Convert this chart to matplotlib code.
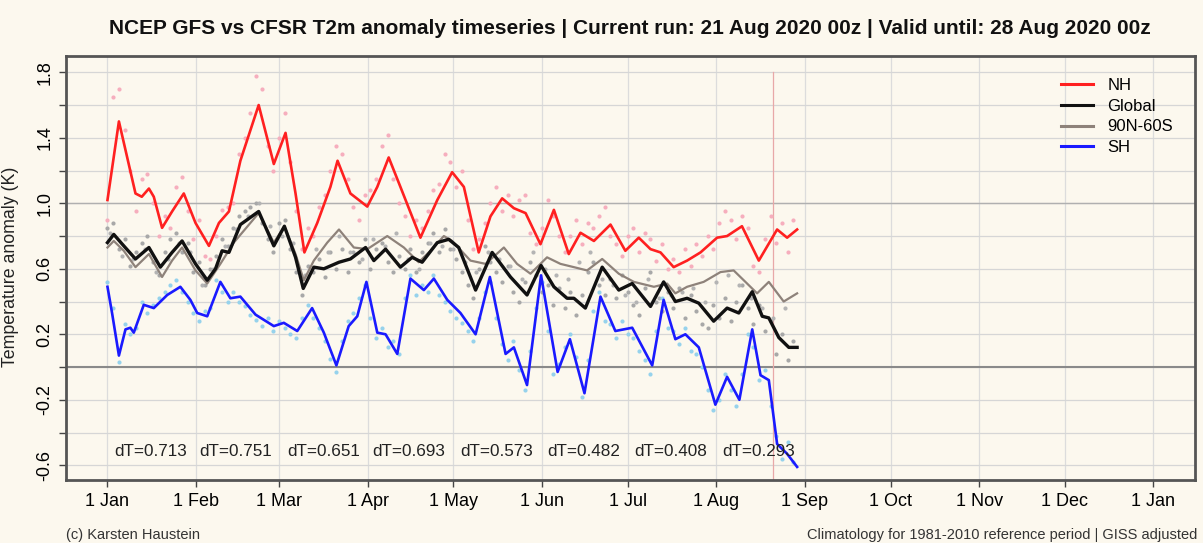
import matplotlib
matplotlib.use("Agg")
import matplotlib.pyplot as plt
import numpy as np

plt.rcParams['font.family'] = ['Liberation Sans', 'DejaVu Sans']

# smoothed curves (day of year 2020, anomaly K)
nh_days = [0, 4, 6.9, 9.8, 12, 14.5, 16.2, 19.1, 22.6, 26.7, 30.8, 35.5, 39, 42.5, 46.5, 52.9, 58.2,
           62.3, 65.8, 68.9, 73.4, 78, 80.5, 85, 90.9, 94.4, 98.4, 102.5, 109.5, 115.4, 120.6, 124.7,
           129.9, 134, 138.1, 142.2, 146.3, 151.5, 156.2, 161.4, 165.5, 170.2, 176, 181.2, 185.9, 190,
           193.5, 198.1, 202.8, 207.5, 213.3, 216.8, 222, 227.9, 234.3, 237.8, 241.3]
nh_vals = [1.02, 1.50, 1.28, 1.06, 1.04, 1.09, 1.04, 0.85, 0.95, 1.06, 0.88, 0.74, 0.88, 0.95, 1.26, 1.60, 1.24,
           1.43, 1.06, 0.70, 0.88, 1.10, 1.26, 1.06, 0.98, 1.10, 1.28, 1.10, 0.79, 1.02, 1.19, 1.10,
           0.70, 0.92, 1.03, 0.97, 0.94, 0.75, 0.96, 0.69, 0.82, 0.77, 0.87, 0.71, 0.79, 0.72,
           0.70, 0.61, 0.65, 0.70, 0.79, 0.80, 0.86, 0.65, 0.84, 0.79, 0.84]

gl_days = [0, 2.2, 5.7, 9.8, 14.5, 18.5, 22.6, 26.1, 30.8, 34.9, 37.8, 40.1, 42.5, 46.5, 52.9, 58.2, 61.9,
           65.8, 68.5, 72.2, 75.7, 81, 85, 90.3, 93.2, 97.3, 102.5, 106.6, 110.1, 115.4, 119.4, 122.9,
           128.8, 134.6, 141, 146.8, 151.7, 156.2, 160.8, 163.2, 167.2, 173.1, 178.9, 183.6, 190, 194.6,
           198.7, 202.8, 206.9, 212.1, 216.8, 220.9, 225.6, 229.1, 231.4, 234.9, 238.4, 241.3]
gl_vals = [0.76, 0.81, 0.74, 0.66, 0.73, 0.61, 0.70, 0.77, 0.63, 0.53, 0.60, 0.71, 0.70, 0.87, 0.95, 0.74, 0.86,
           0.67, 0.48, 0.61, 0.60, 0.64, 0.66, 0.73, 0.65, 0.72, 0.61, 0.67, 0.64, 0.76, 0.78, 0.73,
           0.47, 0.70, 0.55, 0.44, 0.62, 0.49, 0.42, 0.42, 0.36, 0.61, 0.47, 0.51, 0.37, 0.52,
           0.40, 0.42, 0.39, 0.28, 0.36, 0.33, 0.46, 0.31, 0.30, 0.18, 0.12, 0.12]

ex_days = [0, 2.2, 5.7, 9.8, 14.5, 19.1, 22.6, 26.1, 30.8, 34.9, 39.5, 44.2, 52.9, 58.2, 61.9, 65.8, 68.7,
           72.2, 76.9, 81, 86.2, 90.9, 97.9, 103.7, 108.9, 113, 117.7, 120.6, 127, 132.3, 138.7, 143.3,
           148, 153.8, 158.5, 163.2, 167.8, 173.1, 178.9, 184.2, 191.2, 195.8, 198.7, 202.8, 208.6,
           214.5, 219.1, 223.8, 227.3, 231.4, 236.6, 241.3]
ex_vals = [0.73, 0.77, 0.71, 0.61, 0.69, 0.55, 0.65, 0.73, 0.59, 0.51, 0.63, 0.76, 0.94, 0.76, 0.86, 0.69, 0.53,
           0.65, 0.76, 0.84, 0.73, 0.72, 0.80, 0.73, 0.64, 0.71, 0.80, 0.77, 0.65, 0.63, 0.73, 0.63,
           0.57, 0.67, 0.63, 0.61, 0.59, 0.66, 0.57, 0.52, 0.49, 0.51, 0.45, 0.49, 0.52,
           0.58, 0.59, 0.51, 0.45, 0.52, 0.40, 0.45]

sh_days = [0, 1.6, 4, 6.3, 8, 9.2, 12.7, 16.2, 20.9, 25.5, 29, 31.4, 34.9, 39.5, 43, 46.5, 51.8, 58.2, 61.7,
           66.4, 71.6, 75.7, 80.1, 84.4, 87.4, 90.6, 94.4, 97.3, 101.4, 106, 110.7, 114.2, 118.9, 123.5,
           128.8, 133.8, 139.3, 142.2, 146.8, 151.7, 157.5, 161.8, 166.9, 172.5, 177.7, 183.6, 190.6,
           194.6, 198.7, 202.2, 206.9, 212.7, 216.8, 221.1, 225.6, 228.5, 231.4, 234.3, 237.8, 241.3]
sh_vals = [0.49, 0.33, 0.07, 0.23, 0.24, 0.21, 0.38, 0.36, 0.44, 0.49, 0.41, 0.33, 0.31, 0.52, 0.42, 0.43, 0.32, 0.25, 0.27,
           0.22, 0.36, 0.21, 0.01, 0.25, 0.31, 0.52, 0.21, 0.20, 0.08, 0.54, 0.47, 0.54, 0.41, 0.33,
           0.20, 0.55, 0.08, 0.12, -0.11, 0.56, -0.03, 0.17, -0.16, 0.43, 0.22, 0.24, 0.01,
           0.41, 0.17, 0.20, 0.12, -0.23, -0.06, -0.20, 0.23, -0.05, -0.08, -0.47, -0.53, -0.61]

# raw values (dots), estimated every 2 days
dot_days = list(range(0, 241, 2))
nh_dots = [0.90, 1.65, 1.70, 1.45, 1.20, 0.95, 1.15, 1.18, 1.00, 0.80, 0.92, 0.85, 1.10, 1.16, 0.95, 0.78,
           0.90, 0.68, 0.66, 0.80, 0.96, 0.98, 1.00, 1.30, 1.40, 1.55, 1.78, 1.70, 1.35, 1.20, 1.40, 1.55,
           1.25, 0.95, 0.72, 0.85, 0.80, 0.98, 1.05, 1.20, 1.35, 1.30, 1.15, 0.98, 0.90, 1.05, 1.08, 1.15,
           1.35, 1.42, 1.15, 1.00, 0.92, 0.80, 0.90, 0.85, 0.95, 1.08, 1.12, 1.30, 1.25, 1.10, 1.20, 0.90,
           0.72, 0.78, 0.88, 1.00, 1.10, 0.95, 1.05, 0.92, 1.02, 1.05, 0.82, 0.75, 0.85, 1.02, 0.92, 0.80,
           0.70, 0.80, 0.90, 0.75, 0.88, 0.85, 0.92, 0.98, 0.80, 0.75, 0.68, 0.80, 0.85, 0.70, 0.82, 0.78,
           0.65, 0.75, 0.60, 0.66, 0.58, 0.72, 0.62, 0.75, 0.68, 0.80, 0.72, 0.88, 0.95, 0.90, 0.78, 0.92,
           0.85, 0.62, 0.58, 0.78, 0.92, 0.76, 0.88, 0.70, 0.90]
gl_dots = [0.85, 0.88, 0.72, 0.78, 0.62, 0.70, 0.76, 0.80, 0.64, 0.56, 0.70, 0.78, 0.82, 0.70, 0.76, 0.58,
           0.64, 0.50, 0.60, 0.68, 0.78, 0.74, 0.85, 0.92, 0.95, 0.98, 1.00, 0.88, 0.78, 0.70, 0.88, 0.90,
           0.72, 0.58, 0.44, 0.62, 0.58, 0.66, 0.55, 0.70, 0.60, 0.72, 0.58, 0.70, 0.64, 0.78, 0.60, 0.72,
           0.76, 0.64, 0.58, 0.68, 0.60, 0.72, 0.58, 0.70, 0.76, 0.82, 0.70, 0.84, 0.72, 0.66, 0.58, 0.50,
           0.42, 0.60, 0.74, 0.64, 0.58, 0.52, 0.62, 0.46, 0.40, 0.52, 0.64, 0.56, 0.46, 0.50, 0.38, 0.48,
           0.36, 0.46, 0.32, 0.44, 0.58, 0.64, 0.50, 0.44, 0.54, 0.42, 0.56, 0.46, 0.38, 0.32, 0.48, 0.58,
           0.40, 0.34, 0.46, 0.36, 0.48, 0.30, 0.44, 0.34, 0.26, 0.24, 0.38, 0.30, 0.42, 0.28, 0.40, 0.50,
           0.36, 0.26, 0.38, 0.22, 0.28, 0.08, 0.20, 0.04, 0.16]
sh_dots = [0.52, 0.36, 0.03, 0.26, 0.20, 0.24, 0.40, 0.33,
           0.38, 0.42, 0.46, 0.50, 0.53, 0.46, 0.40, 0.33,
           0.28, 0.34, 0.36, 0.53, 0.46, 0.40, 0.46, 0.40,
           0.37, 0.32, 0.29, 0.25, 0.30, 0.22, 0.28, 0.24,
           0.20, 0.18, 0.30, 0.38, 0.30, 0.24, 0.16, 0.05,
           -0.03, 0.16, 0.28, 0.33, 0.42, 0.50, 0.30, 0.18,
           0.24, 0.12, 0.16, 0.08, 0.42, 0.56, 0.44, 0.50,
           0.46, 0.56, 0.44, 0.40, 0.34, 0.30, 0.27, 0.22,
           0.16, 0.30, 0.46, 0.52, 0.30, 0.14, 0.04, 0.16,
           -0.02, -0.14, 0.10, 0.36, 0.52, 0.22, -0.04, 0.02,
           0.12, 0.20, 0.06, -0.18, 0.04, 0.34, 0.46, 0.28,
           0.26, 0.18, 0.28, 0.20, 0.18, 0.10, 0.04, -0.04,
           0.22, 0.42, 0.24, 0.22, 0.14, 0.24, 0.10, 0.08,
           0.00, -0.14, -0.26, -0.20, -0.04, -0.14, -0.24, -0.04,
           0.20, 0.12, -0.08, -0.02, -0.24, -0.42, -0.56, -0.46,
           -0.58]
ex_dot_days = list(range(1, 241, 4))
ex_dots = [0.82, 0.68, 0.66, 0.72, 0.58, 0.66, 0.76, 0.70, 0.50, 0.60, 0.74, 0.84, 0.92, 1.00, 0.86, 0.80,
           0.76, 0.56, 0.72, 0.70, 0.80, 0.70, 0.66, 0.78, 0.74, 0.82, 0.66, 0.60, 0.76, 0.74, 0.72, 0.64,
           0.58, 0.70, 0.66, 0.62, 0.54, 0.70, 0.60, 0.56, 0.54, 0.64, 0.70, 0.54, 0.50, 0.44, 0.40, 0.54,
           0.42, 0.44, 0.46, 0.48, 0.40, 0.52, 0.56, 0.50, 0.42, 0.36, 0.30, 0.36]

dt_days = [15, 45, 75.5, 105.5, 136, 166.5, 197, 228]
dt_labels = ['dT=0.713', 'dT=0.751', 'dT=0.651', 'dT=0.693', 'dT=0.573', 'dT=0.482', 'dT=0.408', 'dT=0.293']

month_days = [0, 31, 60, 91, 121, 152, 182, 213, 244, 274, 305, 335, 366]
month_labels = ['1 Jan', '1 Feb', '1 Mar', '1 Apr', '1 May', '1 Jun', '1 Jul', '1 Aug',
                '1 Sep', '1 Oct', '1 Nov', '1 Dec', '1 Jan']
run_day = 233

bg = '#fcf8ee'
fig = plt.figure(figsize=(12.03, 5.43), dpi=100, facecolor=bg)
ax = fig.add_axes([0.0549, 0.116, 0.9384, 0.781], facecolor=bg)

ax.set_xlim(-14.5, 380.5)
ax.set_ylim(-0.69, 1.90)

# grid
for d in month_days:
    ax.axvline(d, color='#dcdcdc', lw=0.9, zorder=0)
for v in np.arange(-0.6, 1.81, 0.2):
    ax.axhline(v, color='#d6d6d6', lw=0.9, zorder=0)
ax.axhline(1.0, color='#b0b0b0', lw=1.0, zorder=0)
ax.axhline(0.0, color='#8a8a8a', lw=1.5, zorder=0)
ax.plot([run_day, run_day], [-0.69, 1.8], color='#e8a8a8', lw=0.9, zorder=1)

# dots
ax.plot(dot_days, nh_dots, ls='none', marker='o', ms=3, color='#f6aebd', mew=0, zorder=2)
ax.plot(dot_days, gl_dots, ls='none', marker='o', ms=3, color='#a8a8a8', mew=0, zorder=2)
ax.plot(ex_dot_days, ex_dots, ls='none', marker='o', ms=3, color='#b4b4b4', mew=0, zorder=2)
ax.plot(dot_days, sh_dots, ls='none', marker='o', ms=3, color='#96d2ec', mew=0, zorder=2)

# lines
ax.plot(ex_days, ex_vals, color='#8e827a', lw=1.6, zorder=3, label='90N-60S')
ax.plot(gl_days, gl_vals, color='#111111', lw=2.4, zorder=4, label='Global')
ax.plot(nh_days, nh_vals, color='#ff2020', lw=1.9, zorder=5, label='NH')
ax.plot(sh_days, sh_vals, color='#1a1aff', lw=1.9, zorder=5, label='SH')

for d, t in zip(dt_days, dt_labels):
    ax.text(d, -0.515, t, ha='center', va='center', fontsize=12.3, color='#222222', zorder=6)

ax.set_xticks(month_days)
ax.set_xticklabels(month_labels, fontsize=13)
ax.set_yticks([-0.6, -0.2, 0.2, 0.6, 1.0, 1.4, 1.8])
ax.set_yticklabels(['-0.6', '-0.2', '0.2', '0.6', '1.0', '1.4', '1.8'], fontsize=13, rotation=90, va='center')
ax.set_yticks([-0.4, 0.0, 0.4, 0.8, 1.2, 1.6], minor=True)
ax.tick_params(axis='both', which='both', direction='out', length=5, width=1, color='#444444')
ax.tick_params(axis='x', pad=4)
ax.tick_params(axis='y', pad=4)
for s in ax.spines.values():
    s.set_color('#555555')
    s.set_linewidth(2)

handles, labels = ax.get_legend_handles_labels()
order = [2, 1, 0, 3]
leg = ax.legend([handles[i] for i in order], [labels[i] for i in order], loc='upper right',
                bbox_to_anchor=(0.994, 0.984), frameon=False, fontsize=12,
                handlelength=1.9, labelspacing=0.35, handletextpad=0.9)
for h in leg.get_lines():
    h.set_linewidth(2.2)

fig.text(0.524, 0.948, 'NCEP GFS vs CFSR T2m anomaly timeseries | Current run: 21 Aug 2020 00z | Valid until: 28 Aug 2020 00z',
         ha='center', va='center', fontsize=15, fontweight='bold', color='#111111')
fig.text(0.009, 0.508, 'Temperature anomaly (K)', rotation=90, ha='center', va='center', fontsize=12.8, color='#222222')
fig.text(0.0549, 0.0147, '(c) Karsten Haustein', ha='left', va='center', fontsize=10.5, color='#333333')
fig.text(0.995, 0.0147, 'Climatology for 1981-2010 reference period | GISS adjusted', ha='right', va='center',
         fontsize=10.5, color='#333333')

fig.savefig('out.png', dpi=100, facecolor=bg)
